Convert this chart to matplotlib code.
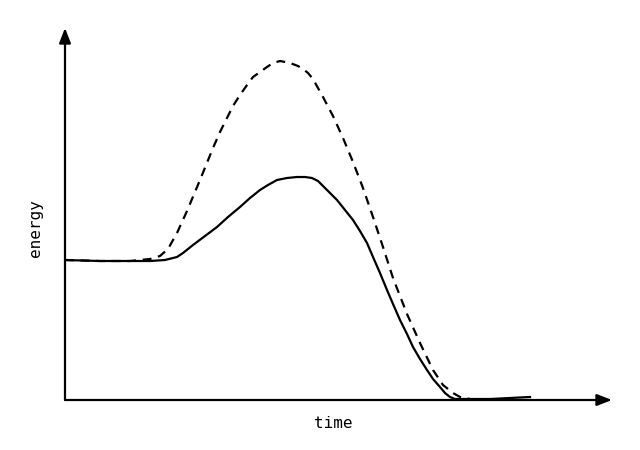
import numpy as np
import matplotlib.pyplot as plt

# curves (x: time, y: energy, arbitrary units)
t_solid = [0, 35, 85, 100, 112, 118, 128, 140, 152, 163, 175, 185, 195, 203,
           212, 222, 232, 240, 247, 253, 258, 265, 272, 280, 288, 295, 302,
           308, 315, 322, 328, 335, 342, 348, 355, 362, 368, 375, 380, 385,
           390, 400, 425, 465]
e_solid = [140, 139, 139, 140, 143, 147, 155, 164, 173, 183, 193, 202, 210,
           215, 220, 222, 223, 223, 222, 219, 214, 207, 200, 190, 180, 169,
           157, 143, 127, 110, 96, 80, 66, 53, 41, 30, 21, 13, 7, 3,
           1, 1, 1, 3]

t_dash = [0, 35, 65, 85, 95, 103, 112, 122, 135, 148, 155, 162, 168, 175,
          182, 188, 195, 202, 208, 215, 225, 233, 238, 243, 248, 253, 258,
          268, 278, 288, 298, 308, 318, 328, 342, 355, 368, 378, 388, 395,
          405]
e_dash = [140, 139, 139, 141, 144, 151, 167, 189, 220, 252, 268, 282, 294,
          305, 315, 323, 328, 333, 337, 339, 337, 334, 331, 327, 321, 312,
          303, 284, 262, 238, 212, 183, 153, 122, 86, 57, 30, 15, 7, 3,
          1]

fig = plt.figure(figsize=(6.4, 4.5), dpi=100)
ax = fig.add_axes([65 / 640, 50 / 450, 547 / 640, 372 / 450])
ax.set_xlim(0, 547)
ax.set_ylim(0, 372)
ax.axis('off')

ax.plot(t_solid, e_solid, color='k', lw=1.6, solid_joinstyle='round')
ax.plot(t_dash, e_dash, color='k', lw=1.6, dashes=(4, 3))

arrow = dict(arrowstyle='-|>,head_length=0.9,head_width=0.35', color='k',
             lw=1.6, shrinkA=0, shrinkB=0)
ax.annotate('', xy=(547, 0), xytext=(0, 0), arrowprops=arrow,
            annotation_clip=False)
ax.annotate('', xy=(0, 372), xytext=(0, 0), arrowprops=arrow,
            annotation_clip=False)

fig.text(333 / 640, 1 - 424 / 450, 'time', family='DejaVu Sans Mono',
         fontsize=11.5, ha='center', va='center')
fig.text(35 / 640, 1 - 228 / 450, 'energy', family='DejaVu Sans Mono',
         fontsize=11.5, ha='center', va='center', rotation=90)

fig.savefig('out.png', dpi=100)
